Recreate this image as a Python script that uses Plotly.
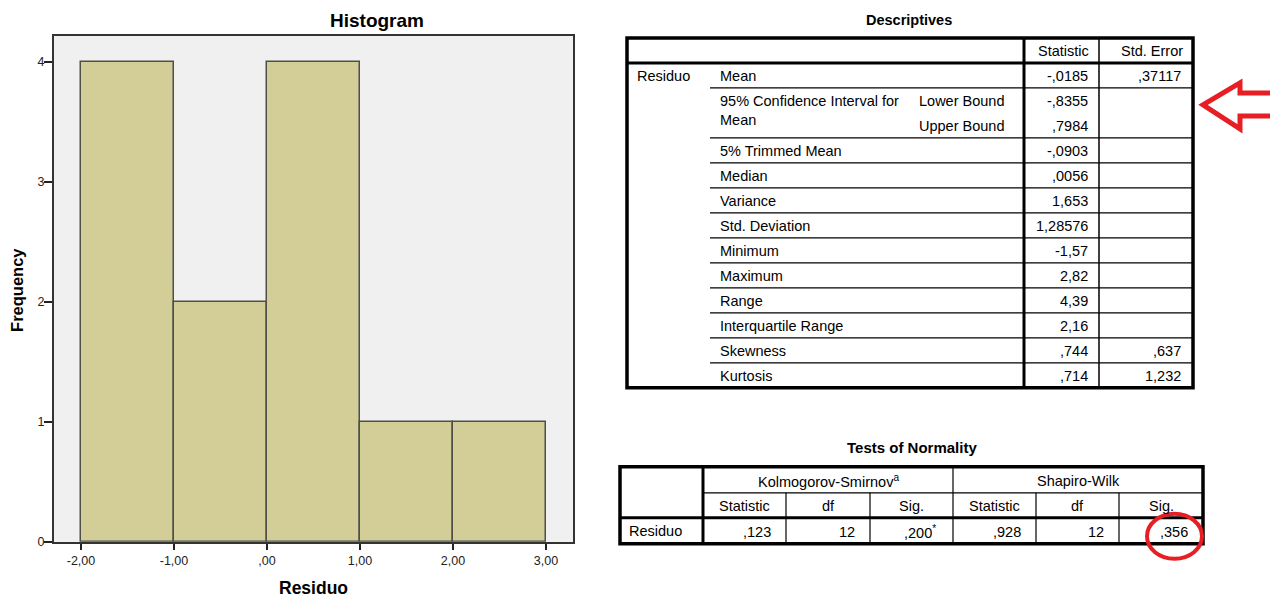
import plotly.graph_objects as go

W, H = 1270, 597
FONT = "Liberation Sans, Arial, sans-serif"
RED = "#E81E25"
VS = 1.0115  # vertical pixel calibration
BODY = 14.5  # table body text size

# ---- Histogram of the residuals ----
bin_edges = [-2, -1, 0, 1, 2, 3]
frequency = [4, 2, 4, 1, 1]
x_tick_values = [-2, -1, 0, 1, 2, 3]
x_tick_labels = ["-2,00", "-1,00", ",00", "1,00", "2,00", "3,00"]
y_tick_values = [0, 1, 2, 3, 4]

# ---- Descriptives table (one entry per sub-row) ----
desc_title = "Descriptives"
desc_header = ["Statistic", "Std. Error"]
desc_group = "Residuo"
desc_labels = ["Mean", "95% Confidence Interval for<br>Mean", "", "5% Trimmed Mean",
               "Median", "Variance", "Std. Deviation", "Minimum", "Maximum", "Range",
               "Interquartile Range", "Skewness", "Kurtosis"]
desc_sublabels = ["", "Lower Bound", "Upper Bound", "", "", "", "", "", "", "", "", "", ""]
desc_statistic = ["-,0185", "-,8355", ",7984", "-,0903", ",0056", "1,653", "1,28576",
                  "-1,57", "2,82", "4,39", "2,16", ",744", ",714"]
desc_std_error = [",37117", "", "", "", "", "", "", "", "", "", "", ",637", "1,232"]

# ---- Tests of Normality table ----
norm_title = "Tests of Normality"
norm_groups = ["Kolmogorov-Smirnov<sup>a</sup>", "Shapiro-Wilk"]
norm_columns = ["Statistic", "df", "Sig.", "Statistic", "df", "Sig."]
norm_row = "Residuo"
norm_values = [",123", "12", ",200<sup>*</sup>", ",928", "12", ",356"]


def px(x):
    return x / W


def py(y):
    return 1 - y * VS / H


fig = go.Figure()

centers = [(a + b) / 2 for a, b in zip(bin_edges[:-1], bin_edges[1:])]
widths = [b - a for a, b in zip(bin_edges[:-1], bin_edges[1:])]
fig.add_trace(go.Bar(
    x=centers, y=frequency, width=widths,
    marker=dict(color="#D3CE98", line=dict(color="#4F4F48", width=1.5)),
    hoverinfo="x+y",
))

shapes = []
annotations = []


def hline(x0, x1, y, w=1.0):
    shapes.append(dict(type="line", xref="paper", yref="paper",
                       x0=px(x0), x1=px(x1), y0=py(y), y1=py(y),
                       line=dict(color="black", width=w)))


def vline(x, y0, y1, w=1.0):
    shapes.append(dict(type="line", xref="paper", yref="paper",
                       x0=px(x), x1=px(x), y0=py(y0), y1=py(y1),
                       line=dict(color="black", width=w)))


def text(x, y, s, anchor="left", size=BODY, bold=False, color="black", valign="middle"):
    annotations.append(dict(xref="paper", yref="paper", x=px(x), y=py(y),
                            text=f"<b>{s}</b>" if bold else s,
                            xanchor=anchor, yanchor=valign, showarrow=False,
                            align="left" if anchor == "left" else "center",
                            font=dict(family=FONT, size=size, color=color)))


# ---- Histogram labels ----
text(377, 21, "Histogram", anchor="center", size=19, bold=True)
text(313, 588, "Residuo", anchor="center", size=17.5, bold=True)
annotations.append(dict(xref="paper", yref="paper", x=px(17), y=py(290),
                        text="<b>Frequency</b>", textangle=-90, showarrow=False,
                        xanchor="center", yanchor="middle",
                        font=dict(family=FONT, size=16.5, color="black")))

# ---- Descriptives ----
d_left, d_right, d_top = 627, 1193, 38
d_split, d_mid = 1024, 1099
d_head_bottom = 63
d_row_h = 25
d_bottom = d_head_bottom + d_row_h * len(desc_statistic)
text((d_left + d_right) / 2 - 1, 20, desc_title, anchor="center", size=14.5, bold=True)

shapes.append(dict(type="rect", xref="paper", yref="paper",
                   x0=px(d_left), x1=px(d_right), y0=py(d_top), y1=py(d_bottom),
                   line=dict(color="black", width=3.5)))
vline(d_split, d_top, d_bottom, 3)
vline(d_mid, d_top, d_bottom, 1.5)
hline(d_left, d_right, d_head_bottom, 3)
text(d_mid - 8, 51, desc_header[0], anchor="right")
text(d_right - 8, 51, desc_header[1], anchor="right")
text(635, d_head_bottom + 13, desc_group)

for i, (lab, sub, st, se) in enumerate(zip(desc_labels, desc_sublabels,
                                           desc_statistic, desc_std_error)):
    yc = d_head_bottom + d_row_h * i + d_row_h / 2 + 1
    if lab:
        if "<br>" in lab:
            text(718, yc + 9, lab)
        else:
            text(718, yc, lab)
    if sub:
        text(917, yc, sub)
    text(d_mid - 9, yc, st, anchor="right")
    if se:
        text(d_right - 10, yc, se, anchor="right")
    # row separator, except inside the two-line confidence interval block
    if i < len(desc_statistic) - 1 and desc_labels[i + 1] != "":
        hline(710, d_right, d_head_bottom + d_row_h * (i + 1), 1.2)

# ---- Tests of Normality ----
n_left, n_right = 620, 1203
n_top, n_mid, n_head_bottom, n_bottom = 467, 493, 518, 544
n_first = 703
col_edges = [703, 786, 870, 953, 1036, 1119, 1203]
text((n_left + n_right) / 2, 448, norm_title, anchor="center", size=15, bold=True)

shapes.append(dict(type="rect", xref="paper", yref="paper",
                   x0=px(n_left), x1=px(n_right), y0=py(n_top), y1=py(n_bottom),
                   line=dict(color="black", width=3.5)))
vline(n_first, n_top, n_bottom, 3)
hline(n_left, n_right, n_head_bottom, 3)
hline(n_first, n_right, n_mid, 1.2)
vline(col_edges[3], n_top, n_bottom, 1.2)
for k in (1, 2, 4, 5):
    vline(col_edges[k], n_mid, n_bottom, 1.2)

for g, name in enumerate(norm_groups):
    text((col_edges[3 * g] + col_edges[3 * g + 3]) / 2, 481, name, anchor="center")
for k, name in enumerate(norm_columns):
    text((col_edges[k] + col_edges[k + 1]) / 2, 506, name, anchor="center")
text(627, 531, norm_row)
for k, v in enumerate(norm_values):
    pad = 15 if "<sup>" in v else 13
    text(col_edges[k + 1] - pad, 532, v, anchor="right")

# ---- Highlights ----
arrow = [(1272, 93), (1240, 93), (1240, 83), (1203, 105), (1240, 129), (1240, 116), (1272, 116)]
path = "M " + " L ".join(f"{px(x):.5f},{py(y):.5f}" for x, y in arrow)
shapes.append(dict(type="path", xref="paper", yref="paper", path=path,
                   line=dict(color=RED, width=5)))
shapes.append(dict(type="circle", xref="paper", yref="paper",
                   x0=px(1147), x1=px(1202), y0=py(514), y1=py(559),
                   line=dict(color=RED, width=4)))

fig.update_layout(
    width=W, height=H,
    margin=dict(l=0, r=0, t=0, b=0),
    paper_bgcolor="white",
    plot_bgcolor="#F0F0F0",
    showlegend=False,
    bargap=0,
    shapes=shapes,
    annotations=annotations,
    xaxis=dict(domain=[px(54), px(573)], range=[-2.29, 3.29],
               tickvals=x_tick_values, ticktext=x_tick_labels,
               ticks="outside", ticklen=6, tickwidth=2, tickcolor="#222",
               showline=True, mirror=True, linecolor="#333", linewidth=2,
               showgrid=False, zeroline=False,
               tickfont=dict(family=FONT, size=12.5, color="#222")),
    yaxis=dict(domain=[py(542), py(36)], range=[0, 4.217],
               tickvals=y_tick_values,
               ticks="outside", ticklen=8, tickwidth=2, tickcolor="#222",
               ticklabelstandoff=-3,
               showline=True, mirror=True, linecolor="#333", linewidth=2,
               showgrid=False, zeroline=False,
               tickfont=dict(family=FONT, size=12.5, color="#222")),
)

fig.write_html("out.html")
